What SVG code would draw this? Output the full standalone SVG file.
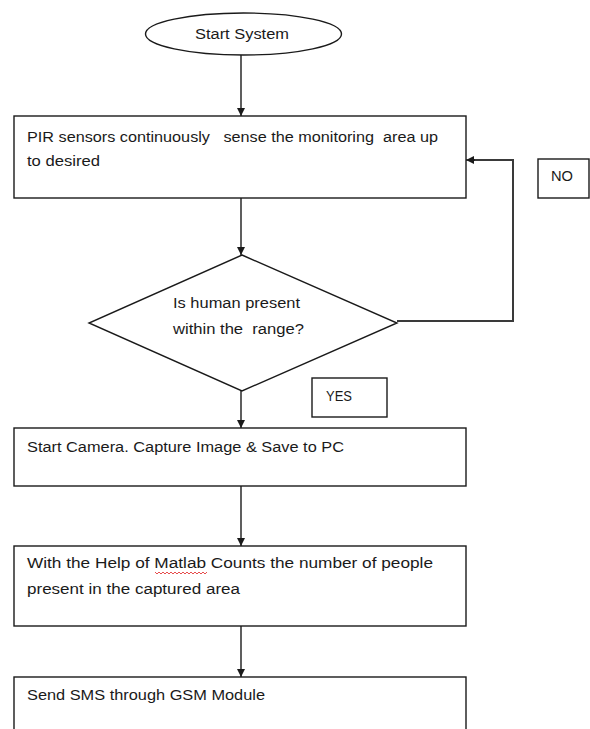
<svg xmlns="http://www.w3.org/2000/svg" width="590" height="729" viewBox="0 0 590 729">
  <style>
    .shape { fill: #ffffff; stroke: #1a1a1a; stroke-width: 1.4; }
    .lbl { font-family: "Liberation Sans", Arial, sans-serif; font-size: 14px; fill: #1a1a1a; white-space: pre; }
    .conn { fill: none; stroke: #1a1a1a; stroke-width: 1.4; }
    .loop { fill: none; stroke: #3a3a3a; stroke-width: 2; }
  </style>
  <defs>
    <marker id="arrow" viewBox="0 0 10 10" refX="10" refY="5" markerWidth="8" markerHeight="8" markerUnits="userSpaceOnUse" orient="auto">
      <path d="M0,0 L10,5 L0,10 Z" fill="#1a1a1a"/>
    </marker>
  </defs>
  <rect width="590" height="729" fill="#ffffff"/>

  <g id="connectors">
    <line class="conn" x1="241" y1="55" x2="241" y2="116" marker-end="url(#arrow)"/>
    <line class="conn" x1="241" y1="198" x2="241" y2="255" marker-end="url(#arrow)"/>
    <polyline class="loop" points="397,321 513,321 513,160 470,160"/>
    <line class="conn" x1="475" y1="160" x2="466" y2="160" marker-end="url(#arrow)"/>
    <line class="conn" x1="241" y1="391" x2="241" y2="428" marker-end="url(#arrow)"/>
    <line class="conn" x1="241" y1="486" x2="241" y2="546" marker-end="url(#arrow)"/>
    <line class="conn" x1="241" y1="626" x2="241" y2="677" marker-end="url(#arrow)"/>
  </g>

  <g id="start">
    <ellipse class="shape" cx="243.5" cy="34" rx="98" ry="21"/>
    <text class="lbl" x="195" y="39" textLength="94" lengthAdjust="spacingAndGlyphs">Start System</text>
  </g>

  <g id="sense">
    <rect class="shape" x="14" y="116" width="452" height="82"/>
    <text class="lbl" x="27" y="142" textLength="411" lengthAdjust="spacingAndGlyphs" xml:space="preserve">PIR sensors continuously   sense the monitoring  area up</text>
    <text class="lbl" x="27" y="166" textLength="73" lengthAdjust="spacingAndGlyphs">to desired</text>
  </g>

  <g id="decision">
    <polygon class="shape" points="242,255 397,323 242,391 89,323"/>
    <text class="lbl" x="173" y="308" textLength="127" lengthAdjust="spacingAndGlyphs">Is human present</text>
    <text class="lbl" x="173" y="334" textLength="131" lengthAdjust="spacingAndGlyphs" xml:space="preserve">within the  range?</text>
  </g>

  <g id="no-label">
    <rect class="shape" x="538" y="159" width="51" height="39"/>
    <text class="lbl" x="551" y="181" textLength="22" lengthAdjust="spacingAndGlyphs">NO</text>
  </g>

  <g id="yes-label">
    <rect class="shape" x="312" y="378" width="75" height="39"/>
    <text class="lbl" x="326" y="401" textLength="26" lengthAdjust="spacingAndGlyphs">YES</text>
  </g>

  <g id="camera">
    <rect class="shape" x="14" y="428" width="452" height="58"/>
    <text class="lbl" x="27" y="452" textLength="317" lengthAdjust="spacingAndGlyphs">Start Camera. Capture Image &amp; Save to PC</text>
  </g>

  <g id="matlab">
    <rect class="shape" x="14" y="546" width="452" height="80"/>
    <text class="lbl" x="27" y="568" textLength="406" lengthAdjust="spacingAndGlyphs">With the Help of Matlab Counts the number of people</text>
    <text class="lbl" x="27" y="594" textLength="213" lengthAdjust="spacingAndGlyphs">present in the captured area</text>
    <polyline points="155,572 157,574 159,572 161,574 163,572 165,574 167,572 169,574 171,572 173,574 175,572 177,574 179,572 181,574 183,572 185,574 187,572 189,574 191,572 193,574 195,572 197,574 199,572 201,574 203,572 205,574 207,572" fill="none" stroke="#e02020" stroke-width="0.8"/>
  </g>

  <g id="sms">
    <rect class="shape" x="14" y="677" width="452" height="70"/>
    <text class="lbl" x="27" y="700" textLength="238" lengthAdjust="spacingAndGlyphs">Send SMS through GSM Module</text>
  </g>
</svg>
